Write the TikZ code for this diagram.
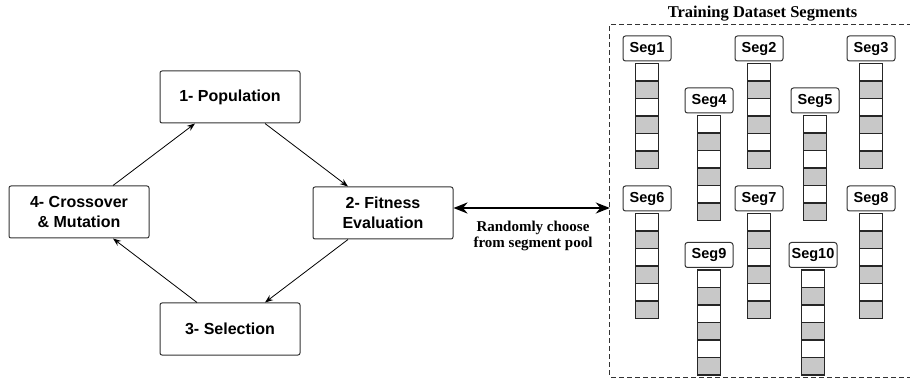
\documentclass[tikz,border=0pt]{standalone}
\usepackage{fontspec}
\setmainfont{Liberation Serif}
\newfontfamily\arialfont{Liberation Sans}
\usetikzlibrary{arrows.meta,positioning}
\definecolor{segfill}{HTML}{C8C8C8}

\begin{document}
\begin{tikzpicture}[x=1pt,y=1pt]
\tikzstyle{every node}+=[inner sep=0pt]
\tikzstyle{stage}=[draw=black!80, line width=1pt, rounded corners=2pt, minimum width=140pt, minimum height=52pt, align=center, font=\arialfont\bfseries\fontsize{16}{20}\selectfont]
\tikzstyle{seglabel}=[draw=black!80, line width=1pt, rounded corners=2.5pt, minimum width=48pt, minimum height=25pt, font=\arialfont\bfseries\fontsize{14.5}{16}\selectfont]
\tikzstyle{cell}=[draw=black!85, line width=1.2pt]
\tikzstyle{cycle}=[-{Stealth[length=8pt,width=6pt]}, line width=0.8pt]
\tikzstyle{pooltext}=[align=center, font=\bfseries\fontsize{15}{16.5}\selectfont]
\useasboundingbox (0,0) rectangle (910,-387);
\clip (0,0) rectangle (910,-387);
% GA cycle
\node [stage] (pop) at (230,-97) {1- Population};
\node [stage] (fit) at (383,-213) {2- Fitness\\Evaluation};
\node [stage] (sel) at (230,-329) {3- Selection};
\node [stage] (cross) at (79,-212) {4- Crossover\\\& Mutation};
\draw [cycle] ([xshift=35pt]pop.south) -- ([xshift=-35pt]fit.north);
\draw [cycle] ([xshift=-35pt]fit.south) -- ([xshift=35pt]sel.north);
\draw [cycle] ([xshift=-33pt]sel.north) -- ([xshift=34pt]cross.south);
\draw [cycle] ([xshift=34pt]cross.north) -- ([xshift=-35pt]pop.south);
% segment pool (its right side runs off the page)
\node [minimum width=310pt, minimum height=352pt] (pool) at (765,-201) {};
\draw [black!80, line width=1pt, dash pattern=on 5pt off 3pt] (pool.north east) -- (pool.north west) -- (pool.south west) -- (pool.south east);
\node [font=\bfseries\fontsize{16.5}{18}\selectfont, anchor=base] (title) at (762.5,-18) {Training Dataset Segments};
\draw [{Stealth[length=14pt,width=11pt]}-{Stealth[length=14pt,width=11pt]}, line width=2.5pt] ([yshift=5pt]fit.east) -- ([yshift=5pt]fit.east -| pool.west);
\node [pooltext] (choose) at (533,-236) {Randomly choose\\from segment pool};
% segments
\foreach \n/\lx/\ly in {1/647/48.5, 2/759/48.5, 3/871/48.5, 4/709/100.5, 5/815/100.5,
                        6/647/198.5, 7/759/198.5, 8/871/198.5, 9/709/255, 10/813/255} {
  \node [seglabel] (seg\n) at (\lx,-\ly) {Seg\n};
  \foreach \i in {1,3,5}
    \fill [segfill] ([shift={(-11.5,{-2-17.5*\i})}]seg\n.south) rectangle ++(23,-17.5);
  \foreach \i in {0,...,5}
    \draw [cell] ([shift={(-11.5,{-2-17.5*\i})}]seg\n.south) rectangle ++(23,-17.5);
}
\end{tikzpicture}
\end{document}
